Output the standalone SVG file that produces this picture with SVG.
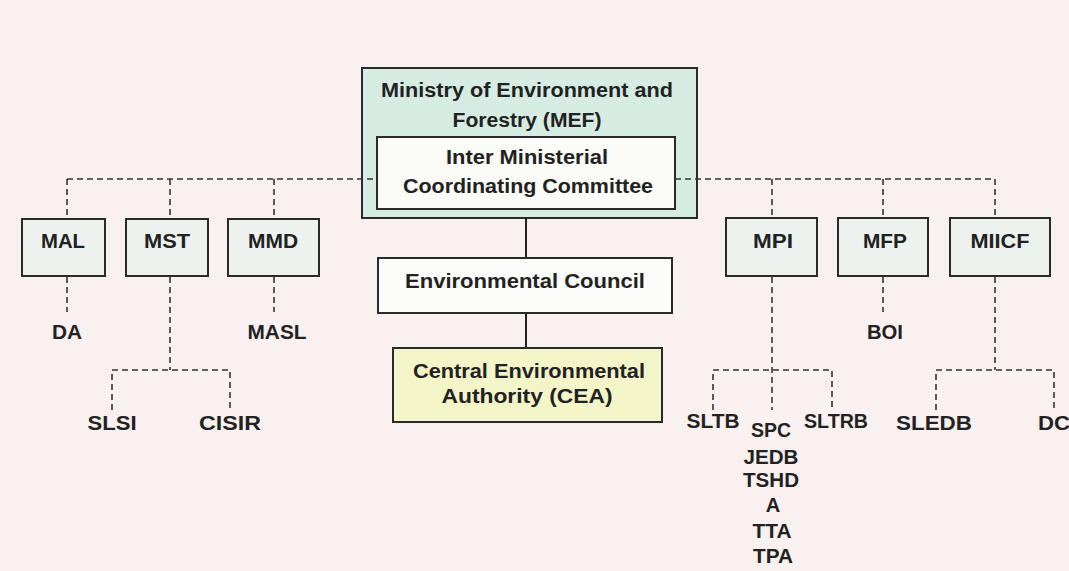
<svg xmlns="http://www.w3.org/2000/svg" width="1069" height="571" viewBox="0 0 1069 571">
<style>
.t{font-family:"Liberation Sans",Arial,sans-serif;font-weight:bold;font-size:20px;fill:#222;text-anchor:middle}
.box{stroke:#2a2a2a;stroke-width:2}
.sm{fill:#eef2ee}
.d{fill:none;stroke:#333;stroke-width:1.6;stroke-dasharray:6 4}
.s{fill:none;stroke:#222;stroke-width:2}
</style>
<rect x="0" y="0" width="1069" height="571" fill="#f9f1ef"/>
<g id="mef">
<rect class="box" x="362" y="68" width="335" height="150" fill="#d6ece2"/>
<text class="t" x="527" y="97" textLength="292" lengthAdjust="spacingAndGlyphs">Ministry of Environment and</text>
<text class="t" x="527" y="127" textLength="149" lengthAdjust="spacingAndGlyphs">Forestry (MEF)</text>
</g>
<g id="connectors">
<path class="d" d="M67,179 H377 M675,179 H995"/>
<path class="d" d="M67,179 V219 M170,179 V219 M274,179 V219 M772,179 V218 M883,179 V218 M995,179 V218"/>
<path class="d" d="M67,277 V312 M274,277 V312 M883,277 V312"/>
<path class="d" d="M170,277 V370 M112,410 V370 H230 V410"/>
<path class="d" d="M772,277 V410 M713,410 V370 H832 V410"/>
<path class="d" d="M995,277 V370 M936,410 V370 H1054 V410"/>
<path class="s" d="M526,218 V258 M526,313 V348"/>
</g>
<g id="imcc">
<rect class="box" x="377" y="137" width="298" height="72" fill="#fbfbf7"/>
<text class="t" x="527" y="164" textLength="162" lengthAdjust="spacingAndGlyphs">Inter Ministerial</text>
<text class="t" x="528" y="193" textLength="250" lengthAdjust="spacingAndGlyphs">Coordinating Committee</text>
</g>
<g id="ec">
<rect class="box" x="378" y="258" width="294" height="55" fill="#fcfcfa"/>
<text class="t" x="525" y="288" textLength="240" lengthAdjust="spacingAndGlyphs">Environmental Council</text>
</g>
<g id="cea">
<rect class="box" x="393" y="348" width="269" height="74" fill="#f3f5c8"/>
<text class="t" x="529" y="378" textLength="232" lengthAdjust="spacingAndGlyphs">Central Environmental</text>
<text class="t" x="527" y="403" textLength="171" lengthAdjust="spacingAndGlyphs">Authority (CEA)</text>
</g>
<g id="mal"><rect class="box sm" x="22" y="219" width="83" height="57"/><text class="t" x="63" y="248" textLength="44" lengthAdjust="spacingAndGlyphs">MAL</text></g>
<g id="mst"><rect class="box sm" x="126" y="219" width="82" height="57"/><text class="t" x="167" y="248" textLength="46" lengthAdjust="spacingAndGlyphs">MST</text></g>
<g id="mmd"><rect class="box sm" x="228" y="219" width="91" height="57"/><text class="t" x="273" y="248" textLength="50" lengthAdjust="spacingAndGlyphs">MMD</text></g>
<g id="mpi"><rect class="box sm" x="726" y="218" width="91" height="58"/><text class="t" x="773" y="248" textLength="40" lengthAdjust="spacingAndGlyphs">MPI</text></g>
<g id="mfp"><rect class="box sm" x="838" y="218" width="90" height="58"/><text class="t" x="885" y="248" textLength="44" lengthAdjust="spacingAndGlyphs">MFP</text></g>
<g id="miicf"><rect class="box sm" x="950" y="218" width="100" height="58"/><text class="t" x="1000" y="248" textLength="59" lengthAdjust="spacingAndGlyphs">MIICF</text></g>
<g id="da"><text class="t" x="67" y="339" textLength="30" lengthAdjust="spacingAndGlyphs">DA</text></g>
<g id="masl"><text class="t" x="277" y="339" textLength="59" lengthAdjust="spacingAndGlyphs">MASL</text></g>
<g id="boi"><text class="t" x="885" y="339" textLength="36" lengthAdjust="spacingAndGlyphs">BOI</text></g>
<g id="slsi"><text class="t" x="112" y="430" textLength="49" lengthAdjust="spacingAndGlyphs">SLSI</text></g>
<g id="cisir"><text class="t" x="230" y="430" textLength="62" lengthAdjust="spacingAndGlyphs">CISIR</text></g>
<g id="sltb"><text class="t" x="713" y="428" textLength="53" lengthAdjust="spacingAndGlyphs">SLTB</text></g>
<g id="sltrb"><text class="t" x="836" y="428" textLength="64" lengthAdjust="spacingAndGlyphs">SLTRB</text></g>
<g id="spc">
<text class="t" x="771" y="437" textLength="40" lengthAdjust="spacingAndGlyphs">SPC</text>
<text class="t" x="771" y="464" textLength="55" lengthAdjust="spacingAndGlyphs">JEDB</text>
<text class="t" x="771" y="487" textLength="56" lengthAdjust="spacingAndGlyphs">TSHD</text>
<text class="t" x="773" y="512">A</text>
<text class="t" x="772" y="538" textLength="39" lengthAdjust="spacingAndGlyphs">TTA</text>
<text class="t" x="773" y="563" textLength="40" lengthAdjust="spacingAndGlyphs">TPA</text>
</g>
<g id="sledb"><text class="t" x="934" y="430" textLength="76" lengthAdjust="spacingAndGlyphs">SLEDB</text></g>
<g id="dc"><text class="t" x="1054" y="430" textLength="32" lengthAdjust="spacingAndGlyphs">DC</text></g>
</svg>
